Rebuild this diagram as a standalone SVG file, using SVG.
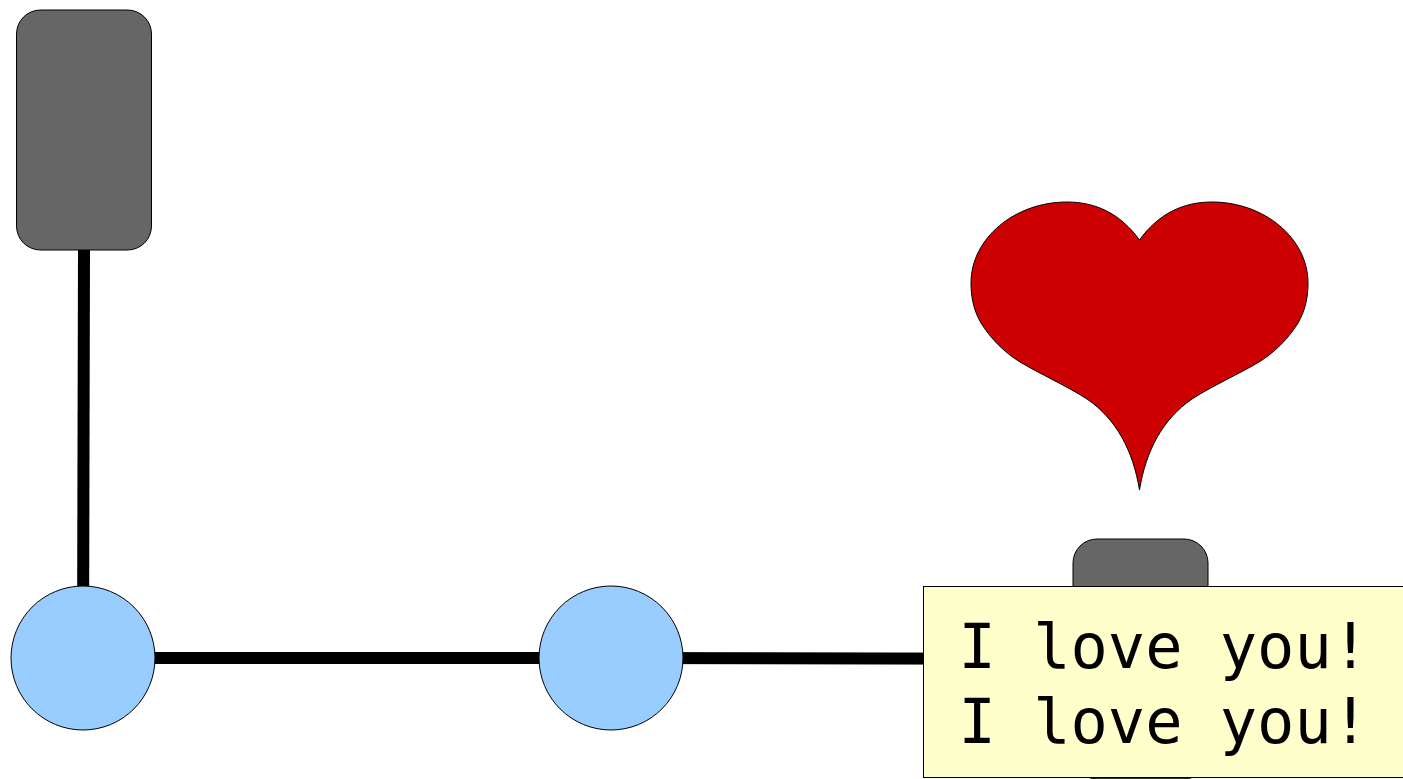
<svg xmlns="http://www.w3.org/2000/svg" width="1403" height="779" viewBox="0 0 1403 779">
<style>
.box{fill:#666;stroke:#000;stroke-width:1}
.dot{fill:#9cf;stroke:#000;stroke-width:1}
.edge{fill:none;stroke:#000;stroke-width:12}
.txt{font-family:"DejaVu Sans Mono",monospace;font-size:62px;fill:#000}
</style>
<rect width="1403" height="779" fill="#fff"/>
<g id="connectors">
<path class="edge" d="M84 250L83 658"/>
<path class="edge" d="M83 658H611"/>
<path class="edge" d="M611 658L1140 659"/>
</g>
<g id="box1"><rect class="box" x="16.500" y="10" width="135" height="240" rx="24" ry="24"/></g>
<g id="box2"><rect class="box" x="1073" y="539" width="135" height="240" rx="24" ry="24"/></g>
<g id="dot1"><circle class="dot" cx="83" cy="658" r="72"/></g>
<g id="dot2"><circle class="dot" cx="611" cy="658" r="72"/></g>
<g id="heart"><path d="M1139.500 240C1120 213 1095 202 1067 202C1015 202 971 238 971 283C971 298 974 311 981 323C991 339 1004 352 1020 362C1040 374 1067 386 1087 399C1116 419 1133 450 1139.500 490C1146 450 1163 419 1192 399C1212 386 1239 374 1259 362C1275 352 1288 339 1298 323C1305 311 1308 298 1308 283C1308 238 1264 202 1212 202C1184 202 1159 213 1139.500 240Z" fill="#c00" stroke="#000" stroke-width="1"/></g>
<g id="note">
<rect x="923.500" y="586.500" width="480" height="191" fill="#ffc" stroke="#000" stroke-width="1"/>
<text class="txt" x="958.500" y="668">I love you!</text>
<text class="txt" x="958.500" y="743">I love you!</text>
</g>
</svg>
